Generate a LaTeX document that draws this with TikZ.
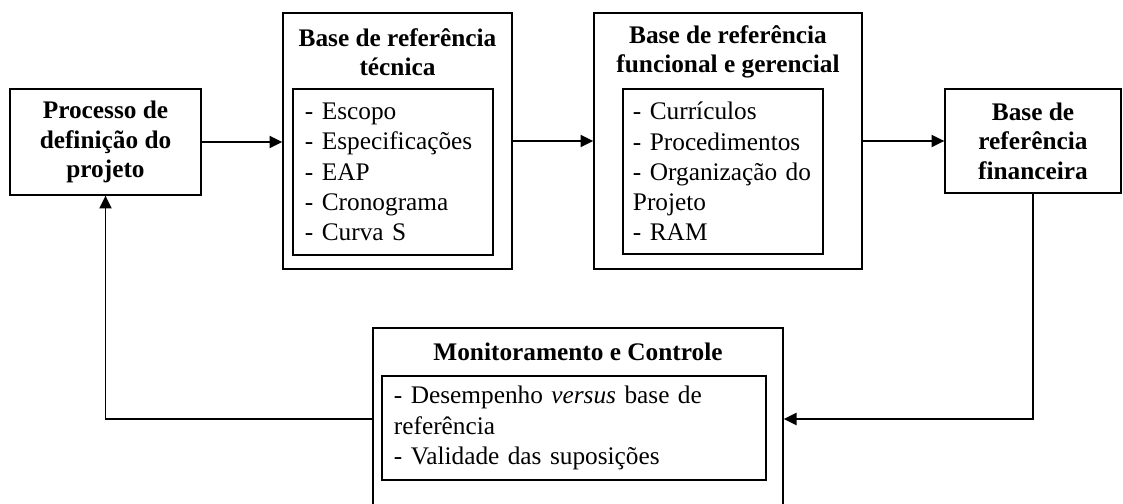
\documentclass[tikz,border=0pt]{standalone}
\usepackage{fontspec}
\setmainfont{Liberation Serif}
\usetikzlibrary{positioning,arrows.meta,calc}
\tikzset{
  proj box/.style={draw=black, line width=0.9pt, align=center, inner sep=0pt},
  proj head/.style={proj box, font=\fontsize{18}{21}\selectfont\bfseries},
  proj frame/.style={proj box},
  proj title/.style={align=center, inner sep=0pt, font=\fontsize{18}{20.5}\selectfont\bfseries},
  proj list/.style={proj box, align=left, inner xsep=0.3cm, font=\fontsize{18}{21.5}\selectfont},
  proj arrow/.style={-{Triangle[length=3.2mm,width=3mm]}, line width=1.3pt}
}

\begin{document}
\begin{tikzpicture}[x=0.025cm, y=-0.025cm]
\clip (0,0) rectangle (1123,504);
% end boxes
\node[proj head, minimum width=4.775cm, minimum height=2.65cm] (proc) at (105.5,142) {Processo de\\definição do\\projeto};
\node[proj head, minimum width=4.4cm, minimum height=2.6cm] (fin) at (1033,141) {Base de\\referência\\financeira};
% technical baseline
\node[proj frame, minimum width=5.725cm, minimum height=6.4cm] (tec) at (397.5,141) {};
\node[proj title] (tectitle) at (397.5,52) {Base de referência\\técnica};
\node[proj list, text width=4.4cm, minimum height=4.15cm] (teclist) at (393,172) {- Escopo\\- Especificações\\- EAP\\- Cronograma\\- Curva S};
% functional baseline
\node[proj frame, minimum width=6.7cm, minimum height=6.4cm] (func) at (728,141) {};
\node[proj title] (functitle) at (728,52) {Base de referência\\funcional e gerencial};
\node[proj list, inner xsep=0.25cm, text width=4.5cm, minimum height=4.125cm] (funclist) at (723,171.5) {- Currículos\\- Procedimentos\\- Organização do\\Projeto\\- RAM};
% monitoring
\node[proj frame, minimum width=10.25cm, minimum height=4.55cm] (mon) at (578,419) {};
\node[proj title] (montitle) at (578,352) {Monitoramento e Controle};
\node[proj list, text width=9cm, minimum height=2.6cm] (monlist) at (574,428) {- Desempenho \textit{versus} base de\\referência\\- Validade das suposições};
% connectors
\draw[proj arrow] (proc.east) -- (proc.east -| tec.west);
\draw[proj arrow] (tec) -- (func);
\draw[proj arrow] (func) -- (fin);
\draw[proj arrow] (fin.south) |- (mon.east);
\draw[proj arrow] (mon.west) -| (proc.south);
\end{tikzpicture}
\end{document}
